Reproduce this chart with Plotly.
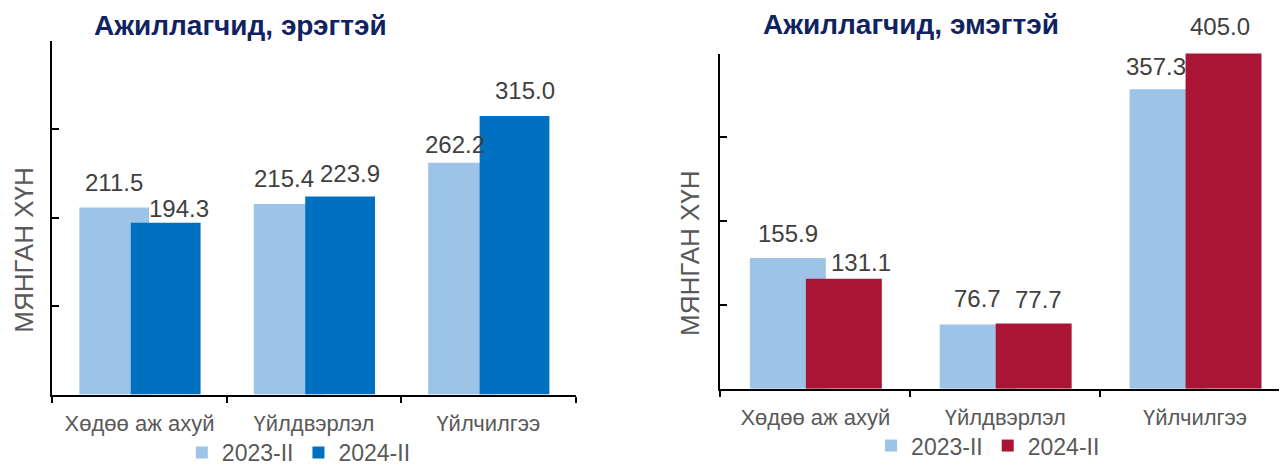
import plotly.graph_objects as go

# ---------------- data ----------------
categories = ["Хөдөө аж ахуй", "Үйлдвэрлэл", "Үйлчилгээ"]
series_names = ["2023-II", "2024-II"]
male_2023 = [211.5, 215.4, 262.2]
male_2024 = [194.3, 223.9, 315.0]
female_2023 = [155.9, 76.7, 357.3]
female_2024 = [131.1, 77.7, 405.0]
title_male = "Ажиллагчид, эрэгтэй"
title_female = "Ажиллагчид, эмэгтэй"
y_title = "МЯНГАН ХҮН"
y_max = 400
y_step = 100

# ---------------- style ----------------
FONT = "Liberation Sans, Arial, sans-serif"
C_LIGHT = "#9DC3E6"
C_BLUE = "#0070C0"
C_RED = "#AB1535"
C_TITLE = "#10235F"
C_TEXT = "#404040"
C_AX = "#595959"
BAR_W = 0.40
OFF_LIGHT = -0.345
OFF_DARK = -0.05
LABEL_FS = 24

# per-label manual nudges (px): (dx, gap above bar top)
nudge_male_2023 = [(0, 17), (-5, 17), (-8, 10)]
nudge_male_2024 = [(13, 6), (10, 15), (10, 17)]
nudge_female_2023 = [(0, 16), (0, 17), (-12, 14)]
nudge_female_2024 = [(17, 8), (5, 16), (-4, 19)]

W, H = 1287, 466
# the page body has an 8px margin; the page photo is then fitted to W x H
M = 8
SX = W / (W + M)
SY = H / (H + 2 * M)


def fx(sx):  # screen px -> figure px
    return sx / SX - M


def fy(sy):
    return sy / SY - M


def xd(a, b):
    return [fx(a) / W, fx(b) / W]


def yd(top, bottom):
    return [1 - fy(bottom) / H, 1 - fy(top) / H]


def px_x(x):
    return fx(x) / W


def px_y(y):
    return 1 - fy(y) / H


fig = go.Figure()

panels = [
    dict(xa="x", ya="y", leg="legend", d1=male_2023, d2=male_2024, c2=C_BLUE,
         n1=nudge_male_2023, n2=nudge_male_2024),
    dict(xa="x2", ya="y2", leg="legend2", d1=female_2023, d2=female_2024, c2=C_RED,
         n1=nudge_female_2023, n2=nudge_female_2024),
]

annotations = []
for p in panels:
    for vals, col, off, name, nud in [(p["d1"], C_LIGHT, OFF_LIGHT, series_names[0], p["n1"]),
                                      (p["d2"], p["c2"], OFF_DARK, series_names[1], p["n2"])]:
        fig.add_trace(go.Bar(
            x=categories, y=vals, name=name, marker_color=col, marker_line_width=0,
            width=BAR_W, offset=off, xaxis=p["xa"], yaxis=p["ya"], legend=p["leg"],
            hoverinfo="x+y+name",
        ))
        for i, v in enumerate(vals):
            dx, gap = nud[i]
            annotations.append(dict(
                x=i + off + BAR_W / 2, y=min(v, y_max), xref=p["xa"], yref=p["ya"],
                text=f"{v:.1f}", showarrow=False, xanchor="center", yanchor="bottom",
                xshift=dx, yshift=gap - 7,
                font=dict(family=FONT, size=LABEL_FS, color=C_TEXT),
            ))

axis_common = dict(showgrid=False, zeroline=False, linecolor="black", linewidth=2)
xcat = dict(type="category", range=[-0.5, 2.5], tickson="boundaries", ticks="outside",
            ticklen=6, tickwidth=2, tickcolor="black", showline=True,
            ticklabelstandoff=8, tickfont=dict(size=22, color=C_AX), **axis_common)
yval = dict(range=[0, y_max], dtick=y_step, ticks="inside", ticklen=7, tickwidth=2,
            tickcolor="black", showline=True, showticklabels=False, **axis_common)
xcross = dict(range=[-0.5, 2.5], tickvals=[-0.5, 0.5, 1.5, 2.5], ticks="inside", ticklen=5,
              tickwidth=2, tickcolor="black", showticklabels=False, showgrid=False,
              zeroline=False, showline=False)

fig.update_layout(
    width=W, height=H, margin=dict(l=0, r=0, t=0, b=0),
    paper_bgcolor="white", plot_bgcolor="white", barmode="overlay",
    font=dict(family=FONT, color=C_AX),
    xaxis=dict(domain=xd(52, 572), anchor="y", **xcat),
    yaxis=dict(domain=yd(41, 400), anchor="x", **yval),
    xaxis2=dict(domain=xd(716, 1282), anchor="y2", **xcat),
    yaxis2=dict(domain=yd(54, 394), anchor="x2", **yval),
    # overlay axes so the category boundary ticks cross the axis line
    xaxis3=dict(overlaying="x", anchor="y", **xcross),
    xaxis4=dict(overlaying="x2", anchor="y2", **xcross),
    legend=dict(orientation="h", xanchor="center", x=px_x(297), yanchor="bottom",
                y=-0.05, font=dict(size=23, color=C_AX),
                bgcolor="rgba(0,0,0,0)", itemclick=False),
    legend2=dict(orientation="h", xanchor="center", x=px_x(982), yanchor="bottom",
                 y=-0.034, font=dict(size=23, color=C_AX),
                 bgcolor="rgba(0,0,0,0)", itemclick=False),
    showlegend=True,
)

# titles
annotations.append(dict(x=px_x(239), y=px_y(25), xref="paper", yref="paper",
                        text=f"<b>{title_male}</b>", showarrow=False,
                        xanchor="center", yanchor="middle",
                        font=dict(family=FONT, size=28, color=C_TITLE)))
annotations.append(dict(x=px_x(905), y=px_y(24), xref="paper", yref="paper",
                        text=f"<b>{title_female}</b>", showarrow=False,
                        xanchor="center", yanchor="middle",
                        font=dict(family=FONT, size=28, color=C_TITLE)))
# y-axis titles
annotations.append(dict(x=0, y=px_y(254), xref="paper", yref="paper", text=y_title,
                        showarrow=False, textangle=-90, xanchor="left", yanchor="middle",
                        borderpad=0, font=dict(family=FONT, size=26, color=C_AX)))
annotations.append(dict(x=px_x(685), y=px_y(257), xref="paper", yref="paper", text=y_title,
                        showarrow=False, textangle=-90, xanchor="center", yanchor="middle",
                        font=dict(family=FONT, size=26, color=C_AX)))
fig.update_layout(annotations=annotations)

fig.write_html("out.html", config={"displayModeBar": False})
